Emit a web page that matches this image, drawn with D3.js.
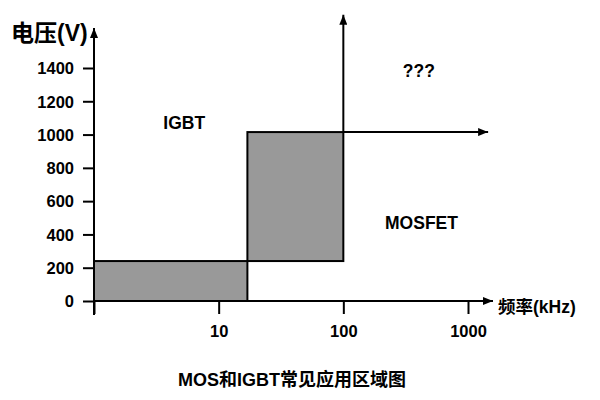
<!DOCTYPE html>
<html>
<head>
<meta charset="utf-8">
<script src="https://cdn.jsdelivr.net/npm/d3@7"></script>
<style>
  html, body { margin: 0; padding: 0; background: #fff; }
  svg { display: block; }
  text { font-family: "Liberation Sans", Arial, "Noto Sans CJK SC", sans-serif; font-weight: bold; fill: #000; }
</style>
</head>
<body>
<svg id="chart" width="600" height="400"></svg>
<script>
// ---- data ----
const yTickValues = [0, 200, 400, 600, 800, 1000, 1200, 1400];
const xTickValues = [1, 10, 100, 1000];
const xTickLabels = ["", "10", "100", "1000"];

// shaded regions (frequency kHz, voltage V)
const regionFreqStart = [1, 17];
const regionFreqEnd   = [17, 100];
const regionVoltLow   = [0, 240];
const regionVoltHigh  = [240, 1015];

// boundary arrows from the (100 kHz, 1015 V) corner
const boundaryFreq = 100;
const boundaryVolt = 1015;
const boundaryVoltTop = 1720;
const boundaryFreqRight = 1450;

// region labels
const regionLabels = ["IGBT", "MOSFET", "???"];
const regionLabelFreq = [3.6, 216, 300];
const regionLabelVolt = [1070, 470, 1385];

const yTitle = "电压(V)";
const xTitle = "频率(kHz)";
const chartTitle = "MOS和IGBT常见应用区域图";

// ---- scales ----
const svg = d3.select("#chart");
const x = d3.scaleLog().domain([1, 1000]).range([94, 468]);
const y = d3.scaleLinear().domain([0, 1400]).range([301, 68]);

const defs = svg.append("defs");
defs.append("marker").attr("id", "arrow")
  .attr("viewBox", "0 0 10 8").attr("refX", 10).attr("refY", 4)
  .attr("markerWidth", 10).attr("markerHeight", 8)
  .attr("markerUnits", "userSpaceOnUse")
  .attr("orient", "auto")
  .append("path").attr("d", "M0,0 L10,4 L0,8 Z").attr("fill", "#000");

// regions
const regions = regionFreqStart.map((d, i) => ({x0: d, x1: regionFreqEnd[i], v0: regionVoltLow[i], v1: regionVoltHigh[i]}));
svg.selectAll("rect.region").data(regions).enter().append("rect")
  .attr("class", "region")
  .attr("x", d => x(d.x0)).attr("y", d => y(d.v1))
  .attr("width", d => x(d.x1) - x(d.x0)).attr("height", d => y(d.v0) - y(d.v1))
  .attr("fill", "#999999").attr("stroke", "#000").attr("stroke-width", 2);

// boundary arrows
svg.append("line")
  .attr("x1", x(boundaryFreq)).attr("y1", y(boundaryVolt))
  .attr("x2", x(boundaryFreq)).attr("y2", y(boundaryVoltTop))
  .attr("stroke", "#000").attr("stroke-width", 2).attr("marker-end", "url(#arrow)");
svg.append("line")
  .attr("x1", x(boundaryFreq)).attr("y1", y(boundaryVolt))
  .attr("x2", x(boundaryFreqRight)).attr("y2", y(boundaryVolt))
  .attr("stroke", "#000").attr("stroke-width", 2).attr("marker-end", "url(#arrow)");

// y axis
const yAxis = d3.axisLeft(y).tickValues(yTickValues).tickSize(11).tickPadding(9).tickFormat(d3.format("d"));
const gy = svg.append("g").attr("transform", `translate(${x(1)},0)`).call(yAxis);
gy.select(".domain").remove();
gy.selectAll(".tick line").attr("stroke", "#000").attr("stroke-width", 2);
gy.selectAll(".tick text").attr("font-size", 16.5).attr("font-family", null).attr("dy", "0.35em");
svg.append("line")
  .attr("x1", x(1)).attr("y1", 315).attr("x2", x(1)).attr("y2", 28)
  .attr("stroke", "#000").attr("stroke-width", 2).attr("marker-end", "url(#arrow)");

// x axis
const xAxis = d3.axisBottom(x).tickValues(xTickValues).tickSize(13).tickPadding(11)
  .tickFormat((d, i) => xTickLabels[i]);
const gx = svg.append("g").attr("transform", `translate(0,${y(0)})`).call(xAxis);
gx.select(".domain").remove();
gx.selectAll(".tick line").attr("stroke", "#000").attr("stroke-width", 2);
gx.selectAll(".tick text").attr("font-size", 16.5).attr("font-family", null);
svg.append("line")
  .attr("x1", x(1)).attr("y1", y(0)).attr("x2", 493).attr("y2", y(0))
  .attr("stroke", "#000").attr("stroke-width", 2).attr("marker-end", "url(#arrow)");

// region labels
svg.selectAll("text.rlabel").data(regionLabels).enter().append("text")
  .attr("class", "rlabel")
  .attr("x", (d, i) => x(regionLabelFreq[i])).attr("y", (d, i) => y(regionLabelVolt[i]))
  .attr("dy", "0.35em").attr("font-size", 17.5).text(d => d);

// axis titles
svg.append("text").attr("x", 11).attr("y", 33).attr("dy", "0.35em").attr("font-size", 23).text(yTitle);
svg.append("text").attr("x", 498).attr("y", 307).attr("dy", "0.35em").attr("font-size", 17.5).text(xTitle);
svg.append("text").attr("x", 292).attr("y", 380).attr("dy", "0.35em").attr("text-anchor", "middle").attr("font-size", 18).text(chartTitle);
</script>
</body>
</html>
